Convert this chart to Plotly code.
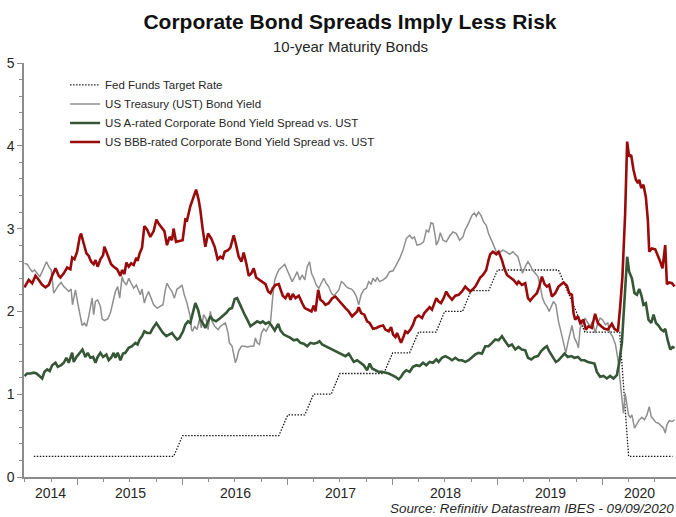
import pandas as pd
import plotly.graph_objects as go

# ---- data -------------------------------------------------------------
# Policy rate (upper bound of target range), monthly vertices
fed_dates = ["2014-08-01", "2015-12-01", "2016-01-01", "2016-12-01", "2017-01-01",
             "2017-03-01", "2017-04-01", "2017-06-01", "2017-07-01", "2017-12-01",
             "2018-01-01", "2018-03-01", "2018-04-01", "2018-06-01", "2018-07-01",
             "2018-09-01", "2018-10-01", "2018-12-01", "2019-01-01", "2019-08-01",
             "2019-09-01", "2019-10-01", "2019-11-01", "2020-03-01", "2020-04-01",
             "2020-09-01"]
fed_rate = [0.25, 0.25, 0.50, 0.50, 0.75,
            0.75, 1.00, 1.00, 1.25, 1.25,
            1.50, 1.50, 1.75, 1.75, 2.00,
            2.00, 2.25, 2.25, 2.50, 2.50,
            2.25, 2.00, 1.75, 1.75, 0.25,
            0.25]

# 10-year Treasury yield (time in decimal years)
ust_t = [2014.492, 2014.518, 2014.543, 2014.566, 2014.588, 2014.613, 2014.638, 2014.661,
         2014.683, 2014.702, 2014.724, 2014.747, 2014.771, 2014.797, 2014.819, 2014.842,
         2014.867, 2014.892, 2014.914, 2014.937, 2014.950, 2014.962, 2014.978, 2015.000,
         2015.026, 2015.042, 2015.064, 2015.083, 2015.105, 2015.121, 2015.137, 2015.152,
         2015.169, 2015.190, 2015.216, 2015.232, 2015.254, 2015.286, 2015.311, 2015.337,
         2015.359, 2015.381, 2015.400, 2015.423, 2015.438, 2015.464, 2015.486, 2015.509,
         2015.533, 2015.559, 2015.581, 2015.597, 2015.613, 2015.635, 2015.654, 2015.676,
         2015.699, 2015.724, 2015.756, 2015.788, 2015.813, 2015.835, 2015.851, 2015.876,
         2015.899, 2015.921, 2015.947, 2015.971, 2015.994, 2016.016, 2016.042, 2016.070,
         2016.085, 2016.095, 2016.114, 2016.137, 2016.159, 2016.178, 2016.200, 2016.223,
         2016.242, 2016.264, 2016.280, 2016.305, 2016.337, 2016.359, 2016.381, 2016.407,
         2016.432, 2016.445, 2016.470, 2016.486, 2016.502, 2016.518, 2016.533, 2016.559,
         2016.590, 2016.613, 2016.645, 2016.676, 2016.692, 2016.709, 2016.730, 2016.750,
         2016.771, 2016.794, 2016.819, 2016.835, 2016.857, 2016.876, 2016.899, 2016.914,
         2016.947, 2016.971, 2016.994, 2017.016, 2017.042, 2017.067, 2017.090, 2017.114,
         2017.137, 2017.162, 2017.185, 2017.207, 2017.226, 2017.248, 2017.271, 2017.295,
         2017.321, 2017.343, 2017.366, 2017.390, 2017.416, 2017.438, 2017.461, 2017.486,
         2017.511, 2017.533, 2017.556, 2017.581, 2017.607, 2017.629, 2017.654, 2017.676,
         2017.699, 2017.724, 2017.750, 2017.771, 2017.794, 2017.813, 2017.835, 2017.851,
         2017.876, 2017.909, 2017.940, 2017.971, 2018.004, 2018.035, 2018.067, 2018.099,
         2018.130, 2018.162, 2018.185, 2018.207, 2018.232, 2018.264, 2018.295, 2018.321,
         2018.343, 2018.366, 2018.385, 2018.407, 2018.416, 2018.438, 2018.454, 2018.480,
         2018.511, 2018.543, 2018.575, 2018.607, 2018.638, 2018.670, 2018.692, 2018.714,
         2018.733, 2018.756, 2018.778, 2018.797, 2018.819, 2018.842, 2018.867, 2018.892,
         2018.914, 2018.937, 2018.962, 2018.988, 2019.019, 2019.051, 2019.083, 2019.114,
         2019.147, 2019.169, 2019.194, 2019.216, 2019.238, 2019.264, 2019.290, 2019.311,
         2019.333, 2019.359, 2019.385, 2019.407, 2019.429, 2019.448, 2019.470, 2019.492,
         2019.511, 2019.533, 2019.556, 2019.581, 2019.607, 2019.629, 2019.651, 2019.670,
         2019.692, 2019.709, 2019.733, 2019.756, 2019.771, 2019.788, 2019.810, 2019.835,
         2019.861, 2019.883, 2019.905, 2019.930, 2019.956, 2019.978, 2020.000, 2020.029,
         2020.051, 2020.073, 2020.095, 2020.124, 2020.137, 2020.152, 2020.169, 2020.185,
         2020.200, 2020.216, 2020.232, 2020.248, 2020.264, 2020.280, 2020.305, 2020.328,
         2020.350, 2020.375, 2020.400, 2020.423, 2020.445, 2020.464, 2020.486, 2020.509,
         2020.533, 2020.559, 2020.581, 2020.597, 2020.613, 2020.635, 2020.661, 2020.686]
ust_yield = [2.58, 2.57, 2.52, 2.48, 2.50, 2.46, 2.42, 2.48,
             2.54, 2.60, 2.54, 2.50, 2.22, 2.28, 2.32, 2.35,
             2.30, 2.27, 2.24, 2.27, 2.08, 2.16, 2.26, 2.10,
             1.94, 1.83, 1.86, 1.82, 1.94, 2.06, 2.16, 1.96,
             2.12, 2.14, 2.06, 1.91, 1.89, 1.91, 1.98, 2.12,
             2.24, 2.30, 2.16, 2.42, 2.36, 2.32, 2.40, 2.34,
             2.28, 2.32, 2.26, 2.20, 2.27, 2.10, 2.18, 2.24,
             2.16, 2.08, 2.04, 2.06, 2.08, 2.26, 2.34, 2.28,
             2.24, 2.16, 2.27, 2.29, 2.32, 2.20, 2.10, 1.95,
             1.78, 1.76, 1.82, 1.78, 1.90, 1.80, 1.96, 1.91,
             1.78, 2.00, 1.88, 1.82, 1.78, 1.82, 1.84, 1.86,
             1.74, 1.62, 1.58, 1.48, 1.38, 1.44, 1.52, 1.58,
             1.58, 1.57, 1.58, 1.58, 1.68, 1.62, 1.60, 1.74,
             1.79, 1.76, 1.82, 1.86, 2.18, 2.38, 2.46, 2.50,
             2.54, 2.57, 2.50, 2.44, 2.36, 2.42, 2.48, 2.38,
             2.44, 2.38, 2.54, 2.60, 2.46, 2.40, 2.32, 2.28,
             2.35, 2.40, 2.34, 2.30, 2.22, 2.19, 2.22, 2.26,
             2.36, 2.34, 2.30, 2.28, 2.27, 2.24, 2.18, 2.08,
             2.20, 2.26, 2.28, 2.36, 2.33, 2.40, 2.36, 2.41,
             2.36, 2.38, 2.41, 2.48, 2.49, 2.56, 2.64, 2.74,
             2.88, 2.92, 2.88, 2.90, 2.80, 2.81, 2.84, 2.98,
             2.96, 3.07, 3.06, 2.90, 2.80, 2.86, 2.95, 2.86,
             2.84, 2.91, 2.96, 2.94, 2.86, 2.90, 2.99, 3.04,
             3.10, 3.16, 3.19, 3.15, 3.20, 3.16, 3.08, 3.04,
             2.94, 2.88, 2.80, 2.72, 2.71, 2.74, 2.72, 2.69,
             2.72, 2.69, 2.66, 2.56, 2.46, 2.54, 2.60, 2.56,
             2.50, 2.46, 2.42, 2.30, 2.16, 2.10, 2.06, 2.00,
             2.06, 2.12, 2.08, 1.88, 1.74, 1.62, 1.50, 1.62,
             1.76, 1.83, 1.68, 1.62, 1.56, 1.80, 1.86, 1.92,
             1.86, 1.82, 1.88, 1.74, 1.86, 1.92, 1.90, 1.84,
             1.86, 1.74, 1.70, 1.60, 1.50, 1.38, 1.15, 0.97,
             0.77, 1.01, 0.85, 0.75, 0.72, 0.75, 0.59, 0.65,
             0.69, 0.72, 0.69, 0.75, 0.85, 0.73, 0.69, 0.66,
             0.65, 0.62, 0.59, 0.53, 0.63, 0.68, 0.67, 0.69]

# A-rated corporate spread over Treasuries
a_t = [2014.492, 2014.518, 2014.550, 2014.581, 2014.607, 2014.638, 2014.661, 2014.683,
       2014.709, 2014.733, 2014.756, 2014.788, 2014.810, 2014.842, 2014.867, 2014.892,
       2014.914, 2014.947, 2014.962, 2014.988, 2015.019, 2015.045, 2015.073, 2015.095,
       2015.121, 2015.147, 2015.169, 2015.190, 2015.216, 2015.242, 2015.273, 2015.295,
       2015.318, 2015.343, 2015.359, 2015.381, 2015.407, 2015.432, 2015.454, 2015.486,
       2015.518, 2015.550, 2015.571, 2015.590, 2015.613, 2015.635, 2015.661, 2015.692,
       2015.718, 2015.750, 2015.781, 2015.813, 2015.845, 2015.867, 2015.899, 2015.921,
       2015.947, 2015.971, 2016.004, 2016.026, 2016.051, 2016.073, 2016.095, 2016.121,
       2016.147, 2016.169, 2016.190, 2016.216, 2016.242, 2016.264, 2016.286, 2016.318,
       2016.350, 2016.381, 2016.413, 2016.445, 2016.470, 2016.495, 2016.518, 2016.540,
       2016.566, 2016.590, 2016.623, 2016.645, 2016.676, 2016.709, 2016.740, 2016.762,
       2016.788, 2016.819, 2016.845, 2016.876, 2016.909, 2016.930, 2016.962, 2016.994,
       2017.026, 2017.057, 2017.090, 2017.121, 2017.152, 2017.185, 2017.216, 2017.248,
       2017.280, 2017.302, 2017.328, 2017.359, 2017.390, 2017.423, 2017.454, 2017.486,
       2017.518, 2017.550, 2017.581, 2017.613, 2017.629, 2017.661, 2017.692, 2017.724,
       2017.756, 2017.781, 2017.804, 2017.835, 2017.867, 2017.899, 2017.930, 2017.962,
       2017.994, 2018.026, 2018.057, 2018.080, 2018.105, 2018.130, 2018.162, 2018.194,
       2018.226, 2018.257, 2018.290, 2018.321, 2018.352, 2018.385, 2018.416, 2018.438,
       2018.470, 2018.502, 2018.533, 2018.566, 2018.597, 2018.629, 2018.661, 2018.692,
       2018.724, 2018.756, 2018.788, 2018.819, 2018.851, 2018.883, 2018.914, 2018.947,
       2018.978, 2019.010, 2019.042, 2019.073, 2019.105, 2019.137, 2019.169, 2019.200,
       2019.232, 2019.264, 2019.290, 2019.321, 2019.352, 2019.385, 2019.416, 2019.448,
       2019.470, 2019.492, 2019.524, 2019.556, 2019.581, 2019.613, 2019.638, 2019.670,
       2019.702, 2019.733, 2019.766, 2019.797, 2019.829, 2019.861, 2019.892, 2019.924,
       2019.947, 2019.978, 2020.010, 2020.042, 2020.073, 2020.105, 2020.137, 2020.159,
       2020.185, 2020.210, 2020.235, 2020.254, 2020.280, 2020.305, 2020.328, 2020.350,
       2020.369, 2020.390, 2020.413, 2020.438, 2020.464, 2020.486, 2020.509, 2020.533,
       2020.559, 2020.581, 2020.597, 2020.623, 2020.645, 2020.667, 2020.686]
a_spread = [1.22, 1.25, 1.25, 1.26, 1.25, 1.22, 1.19, 1.27,
            1.30, 1.28, 1.35, 1.38, 1.33, 1.35, 1.38, 1.44,
            1.38, 1.50, 1.39, 1.45, 1.50, 1.54, 1.45, 1.50,
            1.44, 1.45, 1.38, 1.45, 1.50, 1.45, 1.48, 1.41,
            1.44, 1.50, 1.44, 1.50, 1.41, 1.49, 1.50, 1.56,
            1.58, 1.62, 1.60, 1.66, 1.70, 1.76, 1.74, 1.74,
            1.80, 1.86, 1.80, 1.74, 1.70, 1.72, 1.74, 1.70,
            1.66, 1.68, 1.76, 1.84, 1.88, 1.86, 1.98, 2.10,
            2.02, 1.90, 1.86, 1.80, 1.88, 1.94, 1.90, 1.88,
            1.91, 1.94, 1.98, 2.03, 2.04, 2.15, 2.16, 2.10,
            2.02, 1.96, 1.88, 1.82, 1.85, 1.88, 1.86, 1.88,
            1.85, 1.87, 1.83, 1.77, 1.85, 1.77, 1.72, 1.70,
            1.68, 1.65, 1.66, 1.62, 1.61, 1.58, 1.62, 1.61,
            1.62, 1.64, 1.60, 1.58, 1.56, 1.54, 1.52, 1.50,
            1.48, 1.46, 1.49, 1.41, 1.39, 1.41, 1.38, 1.35,
            1.29, 1.37, 1.31, 1.29, 1.27, 1.27, 1.26, 1.25,
            1.23, 1.21, 1.18, 1.21, 1.26, 1.29, 1.27, 1.33,
            1.35, 1.34, 1.38, 1.35, 1.39, 1.38, 1.42, 1.39,
            1.44, 1.46, 1.44, 1.41, 1.44, 1.41, 1.41, 1.39,
            1.41, 1.45, 1.48, 1.50, 1.49, 1.58, 1.58, 1.62,
            1.66, 1.65, 1.70, 1.64, 1.58, 1.60, 1.54, 1.57,
            1.54, 1.53, 1.44, 1.42, 1.45, 1.46, 1.52, 1.56,
            1.58, 1.52, 1.45, 1.39, 1.41, 1.46, 1.49, 1.45,
            1.46, 1.44, 1.45, 1.41, 1.41, 1.39, 1.38, 1.37,
            1.27, 1.21, 1.22, 1.19, 1.22, 1.19, 1.23, 1.38,
            1.62, 2.10, 2.66, 2.48, 2.40, 2.22, 2.20, 2.27,
            2.20, 2.08, 2.10, 1.90, 1.86, 1.96, 1.86, 1.83,
            1.78, 1.76, 1.79, 1.64, 1.54, 1.57, 1.56]

# BBB-rated corporate spread over Treasuries
bbb_t = [2014.492, 2014.533, 2014.566, 2014.597, 2014.629, 2014.661, 2014.692, 2014.724,
         2014.756, 2014.788, 2014.819, 2014.835, 2014.867, 2014.899, 2014.930, 2014.947,
         2014.969, 2014.994, 2015.019, 2015.032, 2015.057, 2015.083, 2015.105, 2015.128,
         2015.152, 2015.169, 2015.190, 2015.216, 2015.242, 2015.254, 2015.273, 2015.295,
         2015.318, 2015.343, 2015.375, 2015.407, 2015.423, 2015.445, 2015.464, 2015.486,
         2015.509, 2015.533, 2015.559, 2015.571, 2015.590, 2015.613, 2015.635, 2015.661,
         2015.692, 2015.724, 2015.750, 2015.771, 2015.804, 2015.826, 2015.851, 2015.876,
         2015.899, 2015.914, 2015.937, 2015.962, 2016.000, 2016.026, 2016.042, 2016.073,
         2016.095, 2016.128, 2016.152, 2016.169, 2016.190, 2016.216, 2016.242, 2016.273,
         2016.305, 2016.333, 2016.359, 2016.381, 2016.400, 2016.432, 2016.454, 2016.486,
         2016.509, 2016.533, 2016.559, 2016.581, 2016.607, 2016.629, 2016.654, 2016.676,
         2016.699, 2016.730, 2016.762, 2016.788, 2016.813, 2016.835, 2016.857, 2016.883,
         2016.914, 2016.930, 2016.952, 2016.978, 2017.004, 2017.026, 2017.048, 2017.073,
         2017.105, 2017.137, 2017.162, 2017.194, 2017.226, 2017.248, 2017.264, 2017.290,
         2017.311, 2017.333, 2017.359, 2017.390, 2017.423, 2017.454, 2017.486, 2017.518,
         2017.550, 2017.581, 2017.613, 2017.629, 2017.661, 2017.676, 2017.699, 2017.730,
         2017.756, 2017.781, 2017.813, 2017.845, 2017.876, 2017.909, 2017.930, 2017.962,
         2017.985, 2018.004, 2018.026, 2018.042, 2018.067, 2018.080, 2018.105, 2018.121,
         2018.143, 2018.169, 2018.194, 2018.216, 2018.248, 2018.280, 2018.302, 2018.328,
         2018.352, 2018.375, 2018.397, 2018.416, 2018.438, 2018.461, 2018.486, 2018.511,
         2018.533, 2018.566, 2018.597, 2018.629, 2018.661, 2018.692, 2018.714, 2018.740,
         2018.766, 2018.788, 2018.810, 2018.835, 2018.861, 2018.892, 2018.914, 2018.930,
         2018.956, 2018.988, 2019.010, 2019.042, 2019.064, 2019.090, 2019.121, 2019.152,
         2019.185, 2019.200, 2019.232, 2019.264, 2019.290, 2019.311, 2019.343, 2019.375,
         2019.397, 2019.423, 2019.448, 2019.470, 2019.492, 2019.518, 2019.550, 2019.581,
         2019.629, 2019.661, 2019.683, 2019.709, 2019.724, 2019.740, 2019.766, 2019.788,
         2019.819, 2019.842, 2019.867, 2019.899, 2019.930, 2019.956, 2019.988, 2020.019,
         2020.051, 2020.090, 2020.114, 2020.147, 2020.169, 2020.190, 2020.216, 2020.235,
         2020.254, 2020.273, 2020.295, 2020.318, 2020.337, 2020.350, 2020.369, 2020.390,
         2020.413, 2020.432, 2020.445, 2020.470, 2020.502, 2020.528, 2020.550, 2020.571,
         2020.597, 2020.613, 2020.635, 2020.661, 2020.686]
bbb_spread = [2.29, 2.38, 2.34, 2.43, 2.38, 2.32, 2.29, 2.32,
              2.43, 2.52, 2.43, 2.41, 2.46, 2.53, 2.51, 2.65,
              2.63, 2.72, 2.90, 2.94, 2.82, 2.70, 2.67, 2.60,
              2.57, 2.62, 2.54, 2.63, 2.68, 2.78, 2.72, 2.64,
              2.57, 2.54, 2.51, 2.43, 2.50, 2.45, 2.59, 2.54,
              2.58, 2.56, 2.65, 2.61, 2.70, 2.77, 3.03, 2.99,
              2.90, 2.97, 3.11, 3.06, 3.00, 2.97, 2.80, 2.90,
              2.86, 3.00, 2.84, 2.85, 2.86, 3.11, 3.10, 3.27,
              3.35, 3.47, 3.35, 3.22, 3.00, 2.78, 2.94, 2.88,
              2.78, 2.63, 2.66, 2.64, 2.72, 2.74, 2.77, 2.92,
              2.80, 2.66, 2.60, 2.71, 2.57, 2.43, 2.46, 2.52,
              2.41, 2.38, 2.35, 2.33, 2.24, 2.22, 2.28, 2.32,
              2.33, 2.28, 2.19, 2.16, 2.22, 2.14, 2.21, 2.16,
              2.19, 2.10, 2.04, 2.02, 2.00, 2.07, 2.00, 2.26,
              2.14, 2.12, 2.08, 2.10, 2.16, 2.18, 2.13, 2.08,
              2.04, 2.00, 1.94, 1.96, 2.00, 2.05, 1.98, 1.96,
              1.88, 1.86, 1.79, 1.80, 1.82, 1.83, 1.78, 1.76,
              1.81, 1.72, 1.69, 1.74, 1.66, 1.62, 1.70, 1.76,
              1.74, 1.78, 1.84, 1.92, 1.95, 1.92, 1.98, 2.02,
              2.05, 2.02, 2.10, 2.16, 2.12, 2.10, 2.16, 2.24,
              2.19, 2.14, 2.19, 2.20, 2.24, 2.30, 2.27, 2.24,
              2.27, 2.30, 2.35, 2.41, 2.44, 2.50, 2.62, 2.69,
              2.72, 2.69, 2.72, 2.62, 2.52, 2.44, 2.41, 2.38,
              2.33, 2.36, 2.32, 2.34, 2.16, 2.13, 2.18, 2.22,
              2.30, 2.42, 2.33, 2.30, 2.32, 2.18, 2.22, 2.30,
              2.35, 2.31, 2.22, 2.20, 1.98, 1.90, 1.94, 1.86,
              1.90, 1.78, 1.82, 1.80, 1.97, 1.86, 1.82, 1.79,
              1.78, 1.85, 1.79, 1.76, 2.06, 2.42, 3.18, 4.05,
              3.87, 3.89, 3.71, 3.59, 3.55, 3.59, 3.49, 3.53,
              3.38, 3.10, 2.72, 2.76, 2.75, 2.68, 2.60, 2.52,
              2.80, 2.33, 2.35, 2.34, 2.30]

year_labels = ["2014", "2015", "2016", "2017", "2018", "2019", "2020"]
x_start, x_end = "2014-06-28", "2020-09-13"


def to_date(y):
    """Decimal year -> timestamp."""
    yr = int(y)
    a = pd.Timestamp(year=yr, month=1, day=1)
    b = pd.Timestamp(year=yr + 1, month=1, day=1)
    return a + (b - a) * (y - yr)


ust_dates = [to_date(v) for v in ust_t]
a_dates = [to_date(v) for v in a_t]
bbb_dates = [to_date(v) for v in bbb_t]

TEXT = "#262626"
AXIS = "#8c8c8c"
FONT = "Liberation Sans, Arial, sans-serif"

fig = go.Figure()
fig.add_trace(go.Scatter(x=fed_dates, y=fed_rate, mode="lines",
                         name="Fed Funds Target Rate",
                         line=dict(color="#1a1a1a", width=1.3, dash="1.5px,1.5px")))
fig.add_trace(go.Scatter(x=ust_dates, y=ust_yield, mode="lines",
                         name="US Treasury (UST) Bond Yield",
                         line=dict(color="#8f8f8f", width=1.5)))
fig.add_trace(go.Scatter(x=a_dates, y=a_spread, mode="lines",
                         name="US A-rated Corporate Bond Yield Spread vs. UST",
                         line=dict(color="#355735", width=2.6)))
fig.add_trace(go.Scatter(x=bbb_dates, y=bbb_spread, mode="lines",
                         name="US BBB-rated Corporate Bond Yield Spread vs. UST",
                         line=dict(color="#990a0a", width=2.6)))

# year labels centred on the visible part of each calendar year
bounds = [pd.Timestamp(x_start)] + [pd.Timestamp(f"{y}-01-01") for y in range(2015, 2021)] \
         + [pd.Timestamp(x_end)]
annotations = []
for i, lab in enumerate(year_labels):
    mid = bounds[i] + (bounds[i + 1] - bounds[i]) / 2
    annotations.append(dict(x=mid, y=0, xref="x", yref="paper", text=lab,
                            showarrow=False, yanchor="top", yshift=-6,
                            font=dict(size=14, color=TEXT, family=FONT)))

annotations.append(dict(x=0.5, y=1.041, xref="paper", yref="paper",
                        text="10-year Maturity Bonds", showarrow=False,
                        yanchor="middle", font=dict(size=15, color=TEXT, family=FONT)))
annotations.append(dict(x=1, y=-0.075, xref="paper", yref="paper",
                        text="<i>Source: Refinitiv Datastream IBES - 09/09/2020</i>",
                        showarrow=False, xanchor="right", yanchor="middle",
                        font=dict(size=13.4, color=TEXT, family=FONT)))

fig.update_layout(
    width=676, height=517,
    margin=dict(l=24, r=0, t=63, b=40),
    paper_bgcolor="white", plot_bgcolor="white",
    font=dict(family=FONT, color=TEXT),
    title=dict(text="<b>Corporate Bond Spreads Imply Less Risk</b>",
               x=0.5, xref="paper", y=1 - 22 / 517, yref="container",
               xanchor="center", yanchor="middle",
               font=dict(size=21, color="#111111", family=FONT)),
    showlegend=True,
    legend=dict(x=0.063, y=0.982, xanchor="left", yanchor="top",
                bgcolor="rgba(0,0,0,0)", borderwidth=0,
                font=dict(size=11.5, color=TEXT, family=FONT),
                tracegroupgap=0),
    annotations=annotations,
    xaxis=dict(type="date", range=[x_start, x_end],
               showgrid=False, zeroline=False,
               showline=True, linecolor=AXIS, linewidth=1.5,
               tickmode="array",
               tickvals=[f"{y}-01-01" for y in range(2015, 2021)],
               showticklabels=False,
               ticks="outside", ticklen=6, tickcolor=AXIS, tickwidth=1,
               minor=dict(dtick="M3", tick0="2014-01-01", ticks="outside",
                          ticklen=3, tickcolor=AXIS)),
    yaxis=dict(range=[0, 5], showgrid=False, zeroline=False,
               showline=True, linecolor=AXIS, linewidth=1.5,
               tickmode="linear", tick0=0, dtick=1,
               ticks="outside", ticklen=5, tickcolor=AXIS,
               tickfont=dict(size=14, color=TEXT, family=FONT),
               minor=dict(dtick=0.2, ticks="outside", ticklen=3, tickcolor=AXIS)),
)

fig.write_html("out.html")
